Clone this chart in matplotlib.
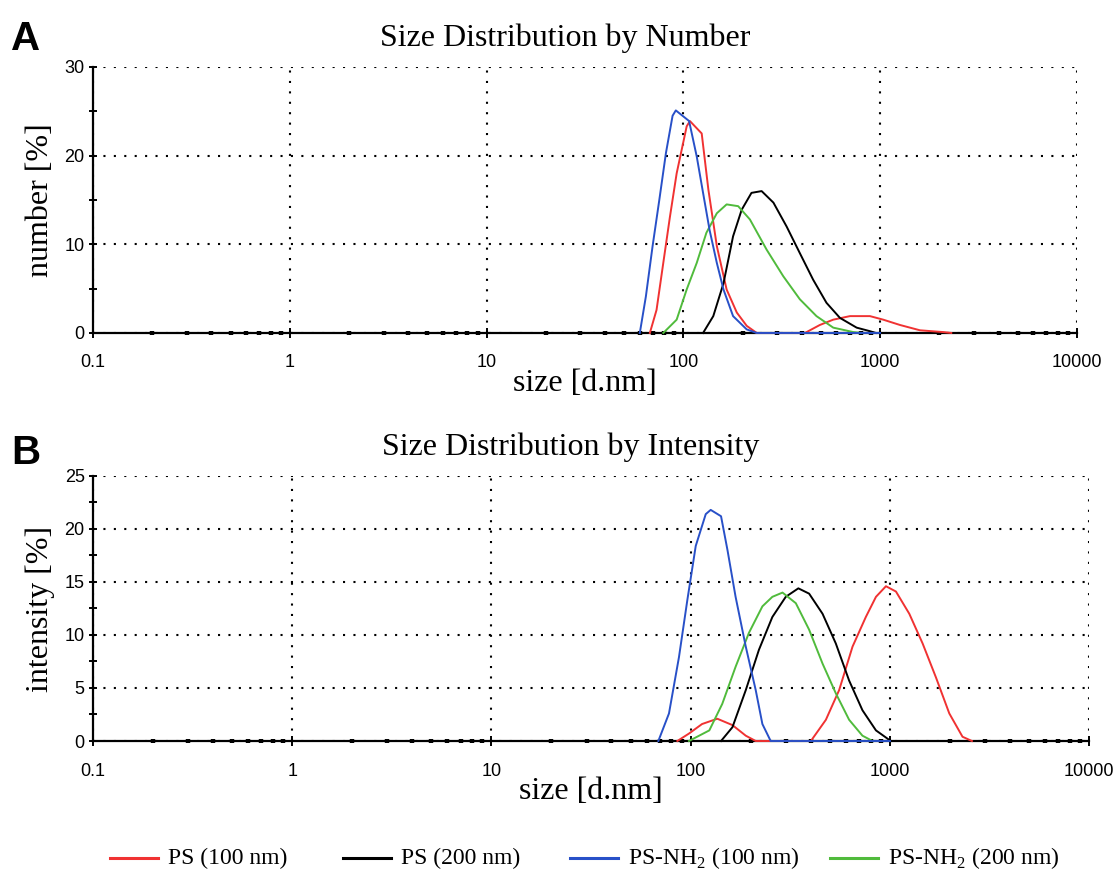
import matplotlib
matplotlib.use('Agg')
import matplotlib.pyplot as plt
from matplotlib.ticker import FixedLocator, FuncFormatter, MultipleLocator
from matplotlib.lines import Line2D
import numpy as np

plt.rcParams['mathtext.fontset'] = 'custom'
plt.rcParams['mathtext.rm'] = 'Liberation Serif'

# panel A: number distribution (size in d.nm, number %)
a_ps100_x = [67.6, 73.1, 79.1, 85.5, 92.5, 104, 108, 124, 134, 148, 166, 187, 210, 236,
             415, 494, 578, 703, 888, 1037, 1262, 1595, 2094, 2300]
a_ps100_y = [0, 2.6, 7.9, 13.1, 18.0, 23.3, 23.9, 22.5, 16.2, 9.8, 4.9, 2.3, 0.8, 0,
             0, 0.9, 1.5, 1.9, 1.9, 1.5, 0.9, 0.3, 0.1, 0]
a_ps200_x = [126, 142, 160, 179, 198, 222, 250, 287, 335, 391, 457, 534, 625, 760, 888, 950]
a_ps200_y = [0, 1.9, 5.6, 10.9, 13.9, 15.8, 16.0, 14.7, 12.0, 9.0, 6.0, 3.4, 1.7, 0.6, 0.2, 0]
a_nh100_x = [60.1, 64.5, 69.8, 75.5, 81.6, 88.2, 91.6, 107, 117, 126, 136, 148, 160, 179, 210, 236, 1000]
a_nh100_y = [0, 4.1, 9.8, 15.0, 20.3, 24.5, 25.1, 23.9, 19.9, 15.8, 11.6, 7.9, 4.9, 1.9, 0.4, 0, 0]
a_nh200_x = [79.1, 92.5, 104, 117, 131, 148, 166, 190, 218, 265, 322, 391, 475, 578, 731, 800]
a_nh200_y = [0, 1.5, 4.9, 7.9, 11.3, 13.5, 14.5, 14.3, 12.8, 9.4, 6.4, 3.8, 1.9, 0.6, 0.1, 0]

# panel B: intensity distribution
b_ps100_x = [85.7, 98, 114, 136, 162, 189, 212, 401, 477, 556, 649, 757, 851, 955, 1072,
             1251, 1459, 1702, 1986, 2314, 2580]
b_ps100_y = [0, 0.7, 1.6, 2.1, 1.5, 0.5, 0, 0, 2.0, 4.8, 8.9, 11.7, 13.6, 14.6, 14.1,
             12.0, 9.2, 6.0, 2.6, 0.4, 0]
b_ps200_x = [142, 162, 189, 220, 257, 300, 347, 393, 459, 535, 624, 728, 851, 993, 1010]
b_ps200_y = [0, 1.3, 4.8, 8.6, 11.7, 13.6, 14.4, 13.9, 12.0, 9.2, 5.7, 2.9, 1.0, 0.1, 0]
b_nh100_x = [68.8, 77.8, 87.3, 96.2, 106, 119, 126, 142, 153, 168, 189, 212, 229, 252, 1000]
b_nh100_y = [0, 2.6, 7.9, 13.3, 18.4, 21.4, 21.8, 21.2, 18.0, 13.6, 8.9, 4.8, 1.6, 0, 0]
b_nh200_x = [98, 124, 144, 168, 196, 229, 257, 289, 337, 393, 459, 535, 624, 728, 818]
b_nh200_y = [0, 1.0, 3.5, 7.0, 10.2, 12.7, 13.6, 14.0, 13.0, 10.5, 7.3, 4.5, 2.0, 0.5, 0]

labels = ['PS (100 nm)', 'PS (200 nm)', 'PS-NH$_2$ (100 nm)', 'PS-NH$_2$ (200 nm)']
colors = ['#f03232', '#000000', '#2850c8', '#50bb3c']
x_ticks = [0.1, 1, 10, 100, 1000, 10000]

serif = 'Liberation Serif'
sans = 'Liberation Sans'


def style_axes(ax, ymax, ymajor, title, ylabel):
    ax.set_xscale('log')
    ax.set_xlim(0.1, 10000)
    ax.set_ylim(0, ymax)
    ax.xaxis.set_major_locator(FixedLocator(x_ticks))
    ax.xaxis.set_major_formatter(FuncFormatter(lambda v, p: '{:g}'.format(v)))
    minors = [m * 10.0 ** e for e in range(-1, 4) for m in range(2, 10)]
    ax.xaxis.set_minor_locator(FixedLocator(minors))
    ax.xaxis.set_minor_formatter(FuncFormatter(lambda v, p: ''))
    ax.yaxis.set_major_locator(MultipleLocator(ymajor))
    ax.yaxis.set_minor_locator(MultipleLocator(ymajor / 2))
    for s in ['top', 'right']:
        ax.spines[s].set_visible(False)
    for s in ['left', 'bottom']:
        ax.spines[s].set_linewidth(1.6)
        ax.spines[s].set_zorder(1)
    ax.grid(True, which='major', color='black', linestyle=(0, (1, 4)), linewidth=1.5)
    ax.tick_params(axis='x', which='major', direction='inout', length=7, width=1.4,
                   labelsize=13, pad=12)
    ax.tick_params(axis='x', which='minor', direction='inout', length=3, width=3.2)
    ax.tick_params(axis='y', which='both', direction='inout', length=6, width=1.4,
                   labelsize=13, pad=3)
    for lab in ax.get_xticklabels() + ax.get_yticklabels():
        lab.set_fontfamily(sans)
    ax.set_title(title, fontfamily=serif, fontsize=23, pad=15, x=0.48)
    ax.set_ylabel(ylabel, fontfamily=serif, fontsize=23, labelpad=7)
    ax.set_xlabel('size [d.nm]', fontfamily=serif, fontsize=23, labelpad=-2)


fig = plt.figure(figsize=(11.18, 8.73), dpi=100)
ax1 = fig.add_axes([0.0832, 0.6186, 0.880, 0.3047])
ax2 = fig.add_axes([0.0832, 0.1512, 0.891, 0.3036])

a_series = [(a_ps100_x, a_ps100_y), (a_ps200_x, a_ps200_y),
            (a_nh200_x, a_nh200_y), (a_nh100_x, a_nh100_y)]
b_series = [(b_ps100_x, b_ps100_y), (b_ps200_x, b_ps200_y),
            (b_nh200_x, b_nh200_y), (b_nh100_x, b_nh100_y)]
order = [0, 1, 3, 2]

for ax, series in [(ax1, a_series), (ax2, b_series)]:
    for (xs, ys), ci in zip(series, order):
        ax.plot(xs, ys, color=colors[ci], lw=1.4, zorder=3, clip_on=False)

style_axes(ax1, 30, 10, 'Size Distribution by Number', 'number [%]')
style_axes(ax2, 25, 5, 'Size Distribution by Intensity', 'intensity [%]')

fig.text(0.010, 0.955, 'A', fontfamily=sans, fontweight='bold', fontsize=29, va='center')
fig.text(0.010, 0.481, 'B', fontfamily=sans, fontweight='bold', fontsize=29, va='center')

# legend row at the bottom, placed by hand to follow the original layout
W, H = 1118.0, 873.0
leg_y = 1 - 858 / H
line_starts = [110, 343, 570, 830]
for x0, c, lab in zip(line_starts, colors, labels):
    fig.add_artist(Line2D([x0 / W, (x0 + 48) / W], [leg_y, leg_y], color=c, lw=2.2,
                          transform=fig.transFigure))
    fig.text((x0 + 58) / W, leg_y, lab, fontfamily=serif, fontsize=17,
             va='center', ha='left')

fig.savefig('out.png', dpi=100)
